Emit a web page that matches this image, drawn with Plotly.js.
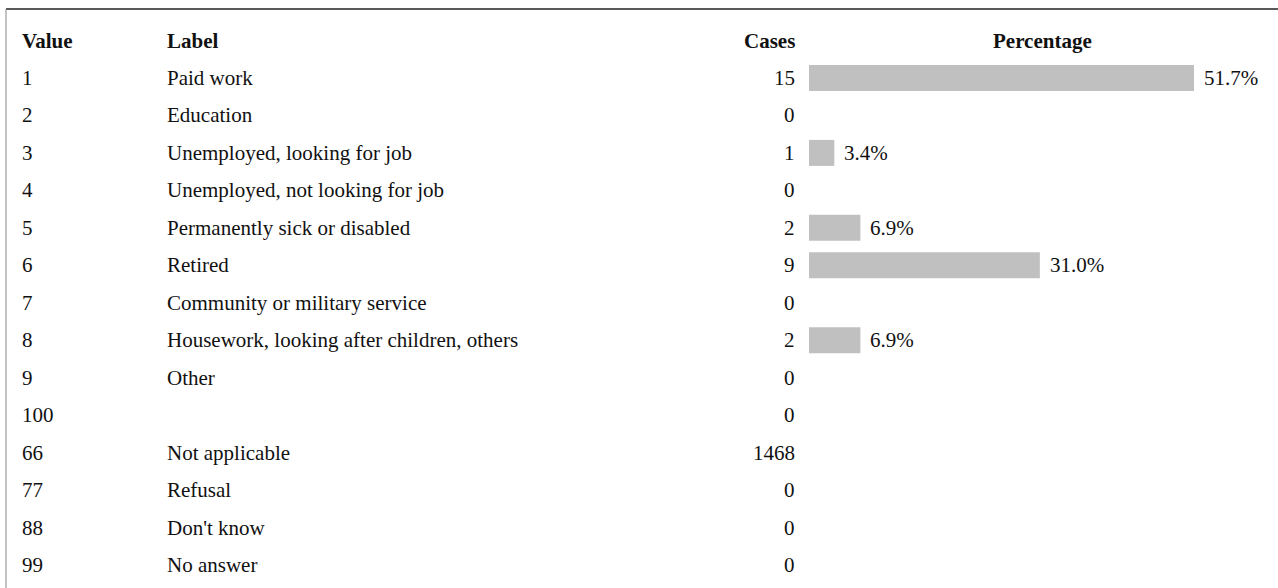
<!DOCTYPE html>
<html>
<head>
<meta charset="utf-8">
<script src="https://cdn.plot.ly/plotly-3.0.1.min.js"></script>
<style>html,body{margin:0;padding:0;background:#fff;}#chart{width:1278px;height:588px;}</style>
</head>
<body>
<div id="chart"></div>
<script>
var headers = ["Value", "Label", "Cases", "Percentage"];
var values = ["1", "2", "3", "4", "5", "6", "7", "8", "9", "100", "66", "77", "88", "99"];
var labels = ["Paid work", "Education", "Unemployed, looking for job", "Unemployed, not looking for job",
  "Permanently sick or disabled", "Retired", "Community or military service",
  "Housework, looking after children, others", "Other", "", "Not applicable", "Refusal", "Don't know", "No answer"];
var cases = [15, 0, 1, 0, 2, 9, 0, 2, 0, 0, 1468, 0, 0, 0];
var percents = [51.7, null, 3.4, null, 6.9, 31.0, null, 6.9, null, null, null, null, null, null];

var W = 1278, H = 588;
var rowH = 37.46, row0 = 78;
var yTop = -row0 / rowH, yBot = (H - row0) / rowH;
var barX0 = 809, pxPerPct = 7.447;
var font = {family: "Liberation Serif, Times New Roman, serif", size: 21, color: "#111"};

var rows = values.map(function (_, i) { return i; });
var barY = [], barX = [];
percents.forEach(function (p, i) { if (p !== null) { barY.push(i); barX.push(p); } });

var ann = [];
function px(x) { return x / W; }
ann.push({xref: "paper", yref: "y", x: px(20), y: -1, xanchor: "left", text: "<b>" + headers[0] + "</b>", showarrow: false, font: font});
ann.push({xref: "paper", yref: "y", x: px(165), y: -1, xanchor: "left", text: "<b>" + headers[1] + "</b>", showarrow: false, font: font});
ann.push({xref: "paper", yref: "y", x: px(797), y: -1, xanchor: "right", text: "<b>" + headers[2] + "</b>", showarrow: false, font: font});
ann.push({xref: "paper", yref: "y", x: px(1042), y: -1, xanchor: "center", text: "<b>" + headers[3] + "</b>", showarrow: false, font: font});
rows.forEach(function (i) {
  ann.push({xref: "paper", yref: "y", x: px(20), y: i, xanchor: "left", text: values[i], showarrow: false, font: font});
  if (labels[i]) ann.push({xref: "paper", yref: "y", x: px(165), y: i, xanchor: "left", text: labels[i], showarrow: false, font: font});
  ann.push({xref: "paper", yref: "y", x: px(797), y: i, xanchor: "right", text: String(cases[i]), showarrow: false, font: font});
});
barY.forEach(function (y, k) {
  ann.push({xref: "x", yref: "y", x: barX[k], y: y, xanchor: "left", xshift: 8, text: barX[k].toFixed(1) + "%", showarrow: false, font: font});
});

var trace = {
  type: "bar", orientation: "h", x: barX, y: barY, width: 0.694,
  marker: {color: "#c0c0c0", line: {width: 0}}, hoverinfo: "skip", textposition: "none"
};

var layout = {
  width: W, height: H, margin: {l: 0, r: 0, t: 0, b: 0},
  paper_bgcolor: "#fff", plot_bgcolor: "rgba(0,0,0,0)", showlegend: false,
  xaxis: {domain: [px(barX0), 1], range: [0, (W - barX0) / pxPerPct], visible: false, fixedrange: true},
  yaxis: {range: [yBot, yTop], visible: false, fixedrange: true},
  annotations: ann,
  shapes: [
    {type: "line", xref: "paper", yref: "paper", x0: px(6), x1: 1, y0: 1 - 9 / H, y1: 1 - 9 / H, line: {color: "#222", width: 1.5}},
    {type: "line", xref: "paper", yref: "paper", x0: px(6), x1: px(6), y0: 1 - 9 / H, y1: 0, line: {color: "#999", width: 1.2}}
  ]
};
Plotly.newPlot("chart", [trace], layout, {staticPlot: true, displayModeBar: false});
</script>
</body>
</html>
